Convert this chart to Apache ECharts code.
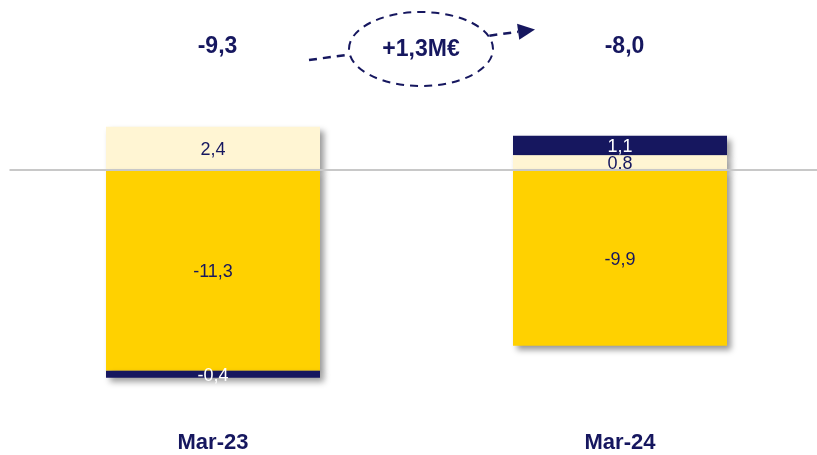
<!DOCTYPE html>
<html>
<head>
<meta charset="utf-8">
<script src="https://cdn.jsdelivr.net/npm/echarts@6/dist/echarts.min.js"></script>
<style>
  html, body { margin: 0; padding: 0; background: #ffffff; }
  #chart { width: 817px; height: 455px; }
</style>
</head>
<body>
<div id="chart"></div>
<script>
// Periods shown on the category axis
const categories = ['Mar-23', 'Mar-24'];

// Bar components (M€), stacked around zero
const lightPositive = [2.4, 0.8];
const navyPositive = [null, 1.1];
const yellowNegative = [-11.3, -9.9];
const navyNegative = [-0.4, null];

// Net totals written above each bar and the change between them
const totalLabels = ['-9,3', '-8,0'];
const deltaLabel = '+1,3M€';

const NAVY = '#16175f';
const YELLOW = '#ffd100';
const CREAM = '#fff5d3';
const FONT = '"Liberation Sans", Arial, sans-serif';

const fmt = v => (v == null ? '' : v.toFixed(1).replace('.', ','));

const shadow = {
  shadowBlur: 6,
  shadowOffsetX: 4,
  shadowOffsetY: 4,
  shadowColor: 'rgba(0,0,0,0.4)'
};

function barSeries(name, data, color, textColor, z) {
  return {
    name: name,
    type: 'bar',
    stack: 'total',
    data: data,
    barWidth: 214,
    z: z,
    itemStyle: Object.assign({ color: color }, shadow),
    label: {
      show: true,
      position: 'inside',
      offset: [0, 2],
      color: textColor,
      fontFamily: FONT,
      fontSize: 18,
      formatter: p => fmt(p.value)
    },
    emphasis: { disabled: true }
  };
}

const chart = echarts.init(document.getElementById('chart'), null, { renderer: 'canvas' });

const series = [
  barSeries('light', lightPositive, CREAM, NAVY, 3),
  barSeries('navyTop', navyPositive, NAVY, '#ffffff', 2),
  barSeries('yellow', yellowNegative, YELLOW, NAVY, 4),
  barSeries('navyBottom', navyNegative, NAVY, '#ffffff', 5)
];

// zero reference line across the whole plot
series[0].markLine = {
  silent: true,
  symbol: 'none',
  z: 10,
  label: { show: false },
  lineStyle: { color: '#c8c8c8', width: 2, type: 'solid' },
  data: [{ yAxis: 0 }]
};

// dashed arrow with the change bubble
const x1 = 309, y1 = 60, tipX = 535, tipY = 29.5;
const len = Math.hypot(tipX - x1, tipY - y1);
const ux = (tipX - x1) / len, uy = (tipY - y1) / len;
const bx = tipX - 17 * ux, by = tipY - 17 * uy;

chart.setOption({
  animation: false,
  backgroundColor: '#ffffff',
  grid: {
    left: 9.5,
    right: -6.5,
    top: 98.3,
    height: 284.8,
    outerBoundsMode: 'none'
  },
  xAxis: [
    {
      type: 'category',
      position: 'bottom',
      data: categories,
      axisLine: { show: false },
      axisTick: { show: false },
      splitLine: { show: false },
      axisLabel: {
        margin: 49,
        color: NAVY,
        fontFamily: FONT,
        fontWeight: 'bold',
        fontSize: 22
      }
    },
    {
      type: 'category',
      position: 'top',
      data: totalLabels,
      axisLine: { show: false },
      axisTick: { show: false },
      splitLine: { show: false },
      axisLabel: {
        margin: 40,
        padding: [0, 0, 0, 9],
        color: NAVY,
        fontFamily: FONT,
        fontWeight: 'bold',
        fontSize: 23
      }
    }
  ],
  yAxis: {
    type: 'value',
    min: -12,
    max: 4,
    show: false,
    splitLine: { show: false }
  },
  series: series,
  graphic: [
    {
      type: 'line',
      z: 100,
      shape: { x1: x1, y1: y1, x2: bx, y2: by },
      style: { stroke: NAVY, lineWidth: 2.5, lineDash: [8, 6] }
    },
    {
      type: 'polygon',
      z: 100,
      shape: {
        points: [
          [tipX, tipY],
          [bx + 8 * uy * -1, by + 8 * ux],
          [bx - 8 * uy * -1, by - 8 * ux]
        ]
      },
      style: { fill: NAVY }
    },
    {
      type: 'ellipse',
      z: 101,
      shape: { cx: 421, cy: 49, rx: 72, ry: 37 },
      style: { fill: '#ffffff', stroke: NAVY, lineWidth: 2, lineDash: [8, 6] }
    },
    {
      type: 'text',
      z: 102,
      x: 421,
      y: 50,
      style: {
        text: deltaLabel,
        fill: NAVY,
        font: 'bold 23px ' + FONT,
        align: 'center',
        verticalAlign: 'middle'
      }
    }
  ]
});
</script>
</body>
</html>
